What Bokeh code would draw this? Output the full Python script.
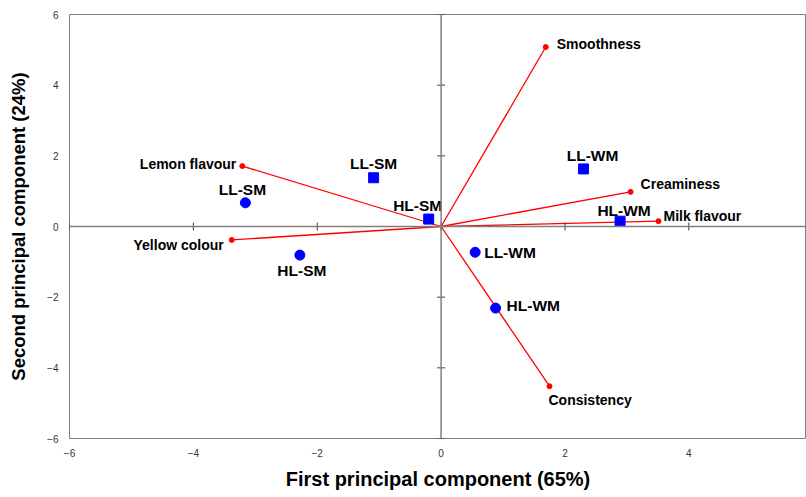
import math
from bokeh.plotting import figure
from bokeh.models import ColumnDataSource, Span, FixedTicker
from bokeh.embed import file_html
from bokeh.resources import INLINE
from bokeh.core.properties import value

# ---------------- data ----------------
attr_names = ["Smoothness", "Lemon flavour", "Yellow colour", "Creaminess", "Milk flavour", "Consistency"]
attr_x = [1.69, -3.21, -3.38, 3.06, 3.51, 1.75]
attr_y = [5.08, 1.71, -0.38, 0.98, 0.15, -4.52]

sq_names = ["LL-SM", "HL-SM", "LL-WM", "HL-WM"]
sq_x = [-1.09, -0.20, 2.30, 2.89]
sq_y = [1.38, 0.21, 1.63, 0.15]

ci_names = ["LL-SM", "HL-SM", "LL-WM", "HL-WM"]
ci_x = [-3.16, -2.28, 0.55, 0.88]
ci_y = [0.67, -0.81, -0.73, -2.31]

x_ticks = [-6, -4, -2, 0, 2, 4]
y_ticks = [-6, -4, -2, 0, 2, 4, 6]
x_title = "First principal component (65%)"
y_title = "Second principal component (24%)"

# ---------------- label styling (pixel offsets / alignment) ----------------
attr_align = ["left", "right", "right", "left", "left", "left"]
attr_dx = [11, -6, -8, 10, 5, -1]
attr_dy = [-3, -2, 5, -8, -5, 14]

sq_align = ["center", "center", "center", "center"]
sq_dx = [0, -11, 9, 4]
sq_dy = [-14, -14, -13, -11]

ci_align = ["center", "center", "left", "left"]
ci_dx = [-3, 2, 9, 11]
ci_dy = [-13, 15, 0, -3]

FONT = "Liberation Sans"

p = figure(width=806, height=497, x_range=(-6, 5.9), y_range=(-6, 6),
           output_backend="svg", toolbar_location=None,
           min_border_left=69, min_border_right=0, min_border_top=14, min_border_bottom=59)
p.grid.visible = False
p.outline_line_color = "#808080"
p.outline_line_width = 1
p.background_fill_color = "white"
p.border_fill_color = "white"

for ax, ticks in ((p.xaxis[0], x_ticks), (p.yaxis[0], y_ticks)):
    ax.ticker = FixedTicker(ticks=ticks)
    ax.axis_line_color = None
    ax.major_tick_line_color = None
    ax.minor_tick_line_color = None
    ax.major_tick_in = 0
    ax.major_tick_out = 0
    ax.minor_tick_in = 0
    ax.minor_tick_out = 0
    ax.major_label_text_font = FONT
    ax.major_label_text_font_size = "10px"
    ax.major_label_text_color = "#333333"
    ax.axis_label_text_font = FONT
    ax.axis_label_text_font_style = "bold"
    ax.axis_label_text_color = "black"

p.xaxis.axis_label = x_title
p.xaxis.major_label_standoff = 10
p.xaxis.axis_label_standoff = 8
p.xaxis.axis_label_text_font_size = "20px"

p.yaxis.axis_label = y_title
p.yaxis.major_label_standoff = 11
p.yaxis.axis_label_standoff = 15
p.yaxis.axis_label_text_font_size = "18.5px"

# centre axes
p.add_layout(Span(location=0, dimension="width", line_color="#808080", line_width=1.5))
p.add_layout(Span(location=0, dimension="height", line_color="#808080", line_width=1.5))
p.scatter(x=x_ticks, y=[0] * len(x_ticks), marker="dash", size=8, angle=math.pi / 2,
          line_color="#404040", line_width=1)
p.scatter(x=[0] * len(y_ticks), y=y_ticks, marker="dash", size=8, angle=0,
          line_color="#404040", line_width=1)

# loading vectors
p.segment(x0=[0] * len(attr_x), y0=[0] * len(attr_y), x1=attr_x, y1=attr_y,
          line_color="#FF0000", line_width=1.3)
p.scatter(x=attr_x, y=attr_y, size=5, color="#FF0000")

# scores
p.scatter(x=sq_x, y=sq_y, marker="square", size=10, color="#0000FF")
p.scatter(x=ci_x, y=ci_y, marker="circle", size=10, color="#0000FF")


def add_labels(names, xs, ys, aligns, dxs, dys, size):
    for al in sorted(set(aligns)):
        idx = [i for i, a in enumerate(aligns) if a == al]
        src = ColumnDataSource(dict(
            x=[xs[i] for i in idx], y=[ys[i] for i in idx], t=[names[i] for i in idx],
            dx=[dxs[i] for i in idx], dy=[dys[i] for i in idx]))
        p.text(x="x", y="y", text="t", x_offset="dx", y_offset="dy", source=src,
               text_align=al, text_baseline="middle", text_font=value(FONT),
               text_font_style="bold", text_font_size=size, text_color="black")


add_labels(attr_names, attr_x, attr_y, attr_align, attr_dx, attr_dy, "14px")
add_labels(sq_names, sq_x, sq_y, sq_align, sq_dx, sq_dy, "15.5px")
add_labels(ci_names, ci_x, ci_y, ci_align, ci_dx, ci_dy, "15.5px")

open("out.html", "w").write(file_html(p, INLINE))
